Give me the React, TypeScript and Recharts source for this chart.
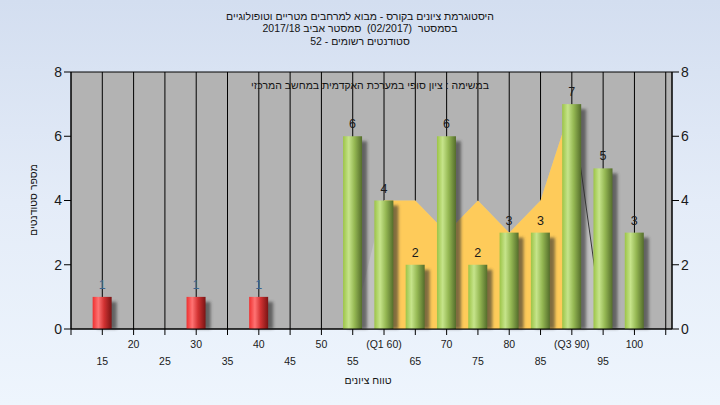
import React from 'react';
import { ComposedChart, Bar, Area, XAxis, YAxis, CartesianGrid } from 'recharts';

// histogram bins (score range) and number of students in each
const scoreBins = [15, 20, 25, 30, 35, 40, 45, 50, 55, 60, 65, 70, 75, 80, 85, 90, 95, 100];
const studentCounts = [1, 0, 0, 1, 0, 1, 0, 0, 6, 4, 2, 6, 2, 3, 3, 7, 5, 3];
const passMark = 55;

// interquartile band (Q1..Q3), drawn in yellow
const iqrBins = [60, 65, 70, 75, 80, 85, 90];
const iqrValues = [4, 4, 3, 4, 3, 4, 7];

// light grey envelope behind the band
const envelopeBins = [55, 60, 65, 70, 75, 80, 85, 90, 95];
const envelopeValues = [0, 4, 4, 3, 4, 3, 4, 7, 0];

// dark edge after Q3
const dropBins = [90, 95];
const dropValues = [7, 0];

const xTicks = [10, 15, 20, 25, 30, 35, 40, 45, 50, 55, 60, 65, 70, 75, 80, 85, 90, 95, 100, 105];
const yTicks = [0, 2, 4, 6, 8];
const tickNames: Record<number, string> = { 60: '(Q1 60)', 90: '(Q3 90)' };

const titleLines = [
  'היסטוגרמת ציונים בקורס - מבוא למרחבים מטריים וטופולוגיים',
  'בסמסטר  (02/2017)  סמסטר אביב 2017/18',
  'סטודנטים רשומים - 52',
];
const subTitle = 'במשימה : ציון סופי במערכת האקדמית במחשב המרכזי';
const yLabel = 'מספר סטודנטים';
const xLabel = 'טווח ציונים';

const FONT = '"Liberation Sans", "DejaVu Sans", Arial, sans-serif';
const rtl = { direction: 'rtl', unicodeBidi: 'embed', whiteSpace: 'pre' } as React.CSSProperties;

const allX = Array.from(new Set([...scoreBins, ...iqrBins, ...envelopeBins, ...dropBins])).sort((a, b) => a - b);
const data = allX.map((score) => {
  const bi = scoreBins.indexOf(score);
  const ii = iqrBins.indexOf(score);
  const ei = envelopeBins.indexOf(score);
  const di = dropBins.indexOf(score);
  return {
    score,
    count: bi >= 0 ? studentCounts[bi] : null,
    iqr: ii >= 0 ? iqrValues[ii] : null,
    envelope: ei >= 0 ? envelopeValues[ei] : null,
    drop: di >= 0 ? dropValues[di] : null,
  };
});

function CylinderBar(props: any) {
  const { x, y, width, height, payload } = props;
  if (!height || height <= 0) return null;
  const fail = payload.score < passMark;
  return (
    <g>
      <rect
        x={x + 5}
        y={y + 5}
        width={width}
        height={Math.max(height - 5, 0)}
        fill="#2e2e2e"
        opacity={0.6}
        filter="url(#barShadow)"
      />
      <rect x={x} y={y} width={width} height={height} fill={fail ? 'url(#gradRed)' : 'url(#gradGreen)'} />
    </g>
  );
}

function BarValue(props: any) {
  const { x, y, width, value, index } = props;
  if (!value) return null;
  const fail = data[index] && data[index].score < passMark;
  return (
    <text
      x={x + width / 2}
      y={y - 8}
      textAnchor="middle"
      fontSize={12.5}
      fontFamily={FONT}
      fill={fail ? '#3d6690' : '#1a1a1a'}
    >
      {value}
    </text>
  );
}

function ScoreTick(props: any) {
  const { x, y, payload } = props;
  const v = payload.value;
  if (v < 15 || v > 100) return null;
  const lower = v % 10 === 5;
  return (
    <text x={x} y={y + (lower ? 28 : 11)} textAnchor="middle" fontSize={10.5} fontFamily={FONT} fill="#1a1a1a">
      {tickNames[v] ?? String(v)}
    </text>
  );
}

export default function App() {
  return (
    <div
      style={{
        position: 'absolute',
        left: 0,
        top: 0,
        width: 720,
        height: 405,
        background: 'linear-gradient(180deg, #d3def0 0%, #e4ecf8 50%, #eef5fd 100%)',
        fontFamily: FONT,
      }}
    >
      <svg width={0} height={0} style={{ position: 'absolute' }}>
        <defs>
          <linearGradient id="gradGreen" x1="0" y1="0" x2="1" y2="0">
            <stop offset="0" stopColor="#9cc447" />
            <stop offset="0.3" stopColor="#c6e48b" />
            <stop offset="0.6" stopColor="#95b853" />
            <stop offset="1" stopColor="#546d2b" />
          </linearGradient>
          <linearGradient id="gradRed" x1="0" y1="0" x2="1" y2="0">
            <stop offset="0" stopColor="#ee3030" />
            <stop offset="0.3" stopColor="#ff7373" />
            <stop offset="0.6" stopColor="#d23232" />
            <stop offset="1" stopColor="#7a1414" />
          </linearGradient>
          <filter id="barShadow" x="-50%" y="-10%" width="200%" height="120%">
            <feGaussianBlur stdDeviation="1.6" />
          </filter>
        </defs>
      </svg>

      <ComposedChart width={720} height={405} data={data} margin={{ top: 72, right: 0, bottom: 36, left: 0 }}>
        <CartesianGrid fill="#b3b3b3" stroke="#000" strokeOpacity={1} />
        <XAxis
          dataKey="score"
          type="number"
          domain={[10, 106]}
          ticks={xTicks}
          interval={0}
          height={40}
          tickSize={6}
          stroke="#000"
          tick={<ScoreTick />}
          allowDataOverflow
        />
        <YAxis
          yAxisId="left"
          width={71}
          domain={[0, 8]}
          ticks={yTicks}
          tickSize={7}
          stroke="#000"
          tick={{ fill: '#1a1a1a', fontSize: 14, fontFamily: FONT }}
        />
        <YAxis
          yAxisId="right"
          orientation="right"
          width={48}
          type="number"
          domain={[0, 8]}
          ticks={yTicks}
          tickSize={7}
          stroke="#000"
          tick={{ fill: '#1a1a1a', fontSize: 14, fontFamily: FONT }}
          allowDataOverflow
        />
        <Area
          yAxisId="left"
          type="linear"
          dataKey="envelope"
          fill="#c1c1c1"
          fillOpacity={1}
          stroke="none"
          isAnimationActive={false}
        />
        <Area
          yAxisId="left"
          type="linear"
          dataKey="iqr"
          fill="#fecb5a"
          fillOpacity={1}
          stroke="none"
          isAnimationActive={false}
        />
        <Area
          yAxisId="left"
          type="linear"
          dataKey="drop"
          fill="none"
          fillOpacity={0}
          stroke="#3a3a3a"
          strokeWidth={1}
          dot={false}
          activeDot={false}
          isAnimationActive={false}
        />
        <Bar
          yAxisId="left"
          dataKey="count"
          barSize={19}
          shape={<CylinderBar />}
          label={<BarValue />}
          isAnimationActive={false}
        />
      </ComposedChart>

      <svg width={720} height={405} style={{ position: 'absolute', left: 0, top: 0, pointerEvents: 'none' }}>
        {titleLines.map((t, i) => (
          <text key={i} x={360} y={20 + i * 12.4} textAnchor="middle" fontSize={10.5} fontFamily={FONT} fill="#141414" style={rtl}>
            {t}
          </text>
        ))}
        <text x={370} y={89} textAnchor="middle" fontSize={10.5} fontFamily={FONT} fill="#141414" style={rtl}>
          {subTitle}
        </text>
        <text
          transform="translate(37 200) rotate(-90)"
          x={0}
          y={0}
          textAnchor="middle"
          fontSize={10.5}
          fontFamily={FONT}
          fill="#141414"
          style={rtl}
        >
          {yLabel}
        </text>
        <text x={368} y={384} textAnchor="middle" fontSize={10.5} fontFamily={FONT} fill="#141414" style={rtl}>
          {xLabel}
        </text>
      </svg>
    </div>
  );
}
